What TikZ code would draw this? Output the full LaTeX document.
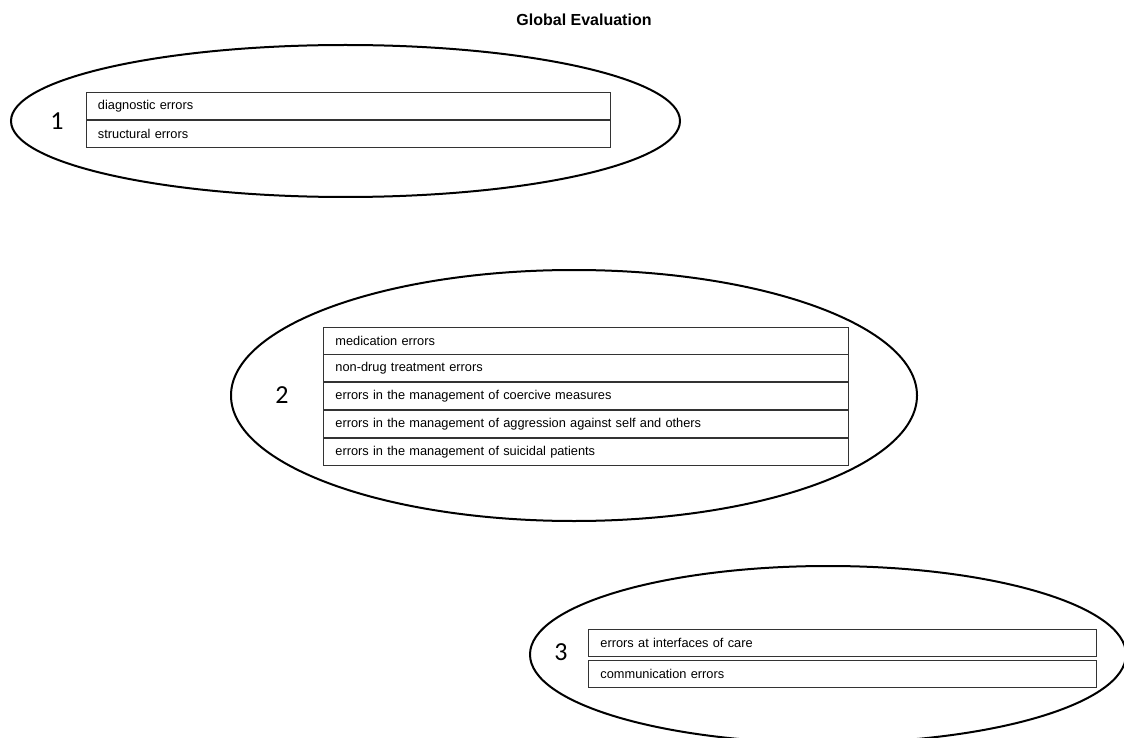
\documentclass[tikz,border=0pt]{standalone}
\usepackage{fontspec}
\setmainfont{Liberation Sans}
\newfontfamily\numfont{Carlito}
\usetikzlibrary{positioning}
\tikzset{
  errbox/.style={draw=black!80, line width=0.9pt, minimum height=27pt, text width=#1,
    inner xsep=12pt, inner ysep=0pt, align=left, anchor=north west,
    font=\fontsize{12.8}{15}\selectfont},
  group/.style={draw, line width=2pt},
  groupnum/.style={font=\numfont\fontsize{26}{30}\selectfont}
}

\begin{document}
\begin{tikzpicture}[x=1pt,y=-1pt]
\useasboundingbox (0,0) rectangle (1124,738);
\clip (0,0) rectangle (1124,738);
\node[font=\bfseries\fontsize{16}{19}\selectfont] (title) at (584,20) {Global Evaluation};

% group 1
\draw[group] (345.5,121) ellipse (334.5pt and 76pt);
\node[groupnum] (n1) at (57,121) {1};
\node[errbox=500.5pt] (diag) at (85.5,92.3) {diagnostic errors};
\node[errbox=500.5pt, below=0pt of diag] (struct) {structural errors};

% group 2
\draw[group] (574,395.5) ellipse (343pt and 125.5pt);
\node[groupnum] (n2) at (282,395) {2};
\node[errbox=501pt] (medic) at (323,326.5) {medication errors};
\node[errbox=501pt, below=0pt of medic] (nondrug) {non-drug treatment errors};
\node[errbox=501pt, below=0pt of nondrug] (coerc) {errors in the management of coercive measures};
\node[errbox=501pt, below=0pt of coerc] (aggr) {errors in the management of aggression against self and others};
\node[errbox=501pt, below=0pt of aggr] (suic) {errors in the management of suicidal patients};

% group 3
\draw[group] (828,654.5) ellipse (298pt and 88.5pt);
\node[groupnum] (n3) at (561,652) {3};
\node[errbox=484pt] (interf) at (588,629) {errors at interfaces of care};
\node[errbox=484pt, below=3pt of interf] (commun) {communication errors};
\end{tikzpicture}
\end{document}
